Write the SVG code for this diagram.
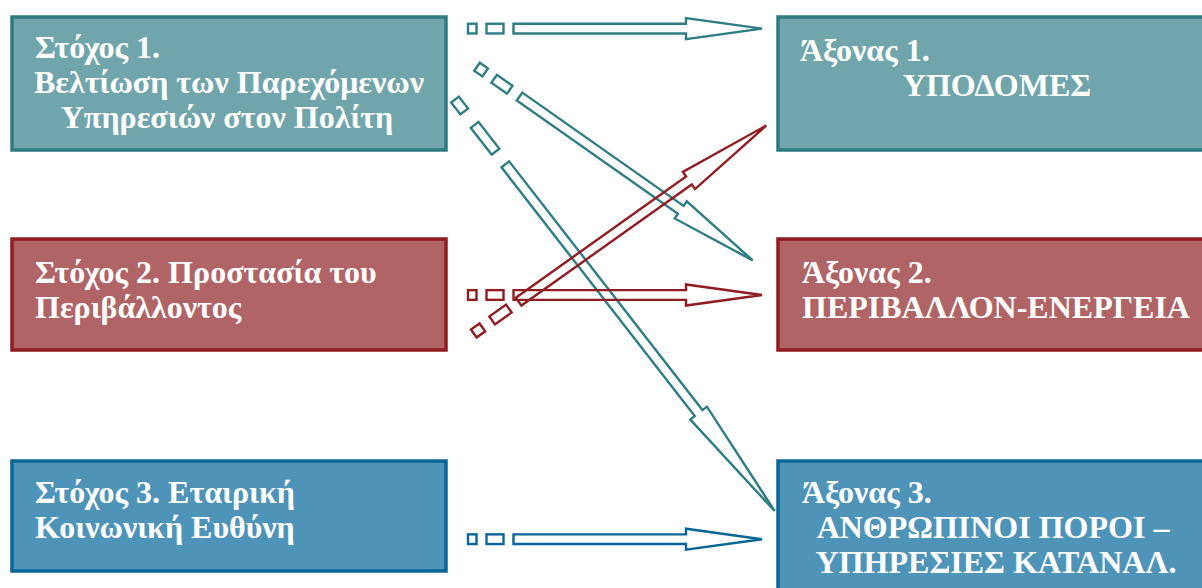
<svg xmlns="http://www.w3.org/2000/svg" width="1202" height="588" viewBox="0 0 1202 588">
  <style>
    .t { font-family: "Liberation Serif", "Times New Roman", serif; font-weight: bold; font-size: 32px; fill: #ffffff; }
    .m { text-anchor: middle; }
    .teal { fill: #70a6ab; stroke: #2f7b80; stroke-width: 3.5; }
    .red { fill: #b06466; stroke: #8f1d22; stroke-width: 3.5; }
    .blue { fill: #4e94b8; stroke: #0a6598; stroke-width: 3.5; }
    .ac { fill: none; stroke-width: 2.4; stroke-linejoin: miter; }
    .at { stroke: #2e7d83; }
    .ar { stroke: #8f1d22; }
    .ab { stroke: #0a6598; }
  </style>
  <rect width="1202" height="588" fill="#ffffff"/>

  <g id="goal1">
    <rect class="teal" x="12" y="17" width="434" height="133"/>
    <text class="t" x="35" y="58">Στόχος 1.</text>
    <text class="t m" x="229" y="93">Βελτίωση των Παρεχόμενων</text>
    <text class="t m" x="227" y="128">Υπηρεσιών στον Πολίτη</text>
  </g>
  <g id="goal2">
    <rect class="red" x="12" y="239" width="434" height="111"/>
    <text class="t" x="35" y="283">Στόχος 2. Προστασία του</text>
    <text class="t" x="35" y="318">Περιβάλλοντος</text>
  </g>
  <g id="goal3">
    <rect class="blue" x="12" y="461" width="434" height="110"/>
    <text class="t" x="35" y="503">Στόχος 3. Εταιρική</text>
    <text class="t" x="35" y="538">Κοινωνική Ευθύνη</text>
  </g>
  <g id="axis1">
    <rect class="teal" x="778" y="17" width="434" height="133"/>
    <text class="t" x="800" y="61">Άξονας 1.</text>
    <text class="t m" x="997" y="96">ΥΠΟΔΟΜΕΣ</text>
  </g>
  <g id="axis2">
    <rect class="red" x="778" y="239" width="434" height="111"/>
    <text class="t" x="802" y="283">Άξονας 2.</text>
    <text class="t" x="802" y="318">ΠΕΡΙΒΑΛΛΟΝ-ΕΝΕΡΓΕΙΑ</text>
  </g>
  <g id="axis3">
    <rect class="blue" x="778" y="461" width="434" height="140"/>
    <text class="t" x="802" y="503">Άξονας 3.</text>
    <text class="t m" x="993" y="538">ΑΝΘΡΩΠΙΝΟΙ ΠΟΡΟΙ –</text>
    <text class="t m" x="996" y="573">ΥΠΗΡΕΣΙΕΣ ΚΑΤΑΝΑΛ.</text>
  </g>

  <g id="connectors">
    <!-- goal1 -> axis1 -->
    <g class="ac at" transform="translate(468,28.6)">
      <rect x="0" y="-4.85" width="8.5" height="9.7"/>
      <rect x="18.5" y="-4.85" width="17" height="9.7"/>
      <polygon points="45.5,-4.85 218,-4.85 218,-10.5 294,0 218,10.5 218,4.85 45.5,4.85"/>
    </g>
    <!-- goal1 -> axis2 -->
    <g class="ac at" transform="translate(477,66.7) rotate(35.09)">
      <rect x="0" y="-4.85" width="10" height="9.7"/>
      <rect x="21" y="-4.85" width="19" height="9.7"/>
      <polygon points="52,-4.85 249,-4.85 249,-10.5 337,0 249,10.5 249,4.85 52,4.85"/>
    </g>
    <!-- goal1 -> axis3 -->
    <g class="ac at" transform="translate(455,99.6) rotate(52.15)">
      <rect x="0" y="-4.85" width="15" height="9.7"/>
      <rect x="32" y="-4.85" width="34" height="9.7"/>
      <polygon points="82,-4.85 397,-4.85 397,-10.5 521,0 397,10.5 397,4.85 82,4.85"/>
    </g>
    <!-- goal2 -> axis2 -->
    <g class="ac ar" transform="translate(468,295)">
      <rect x="0" y="-4.85" width="8.5" height="9.7"/>
      <rect x="18.5" y="-4.85" width="17" height="9.7"/>
      <polygon points="45.5,-4.85 218,-4.85 218,-10.5 294,0 218,10.5 218,4.85 45.5,4.85"/>
    </g>
    <!-- goal2 -> axis1 -->
    <g class="ac ar" transform="translate(473.8,333.5) rotate(-35.42)">
      <rect x="0" y="-4.85" width="10.5" height="9.7"/>
      <rect x="22.5" y="-4.85" width="20.5" height="9.7"/>
      <polygon points="55,-4.85 264,-4.85 264,-10.5 359,0 264,10.5 264,4.85 55,4.85"/>
    </g>
    <!-- goal3 -> axis3 -->
    <g class="ac ab" transform="translate(468,539.2)">
      <rect x="0" y="-4.85" width="8.5" height="9.7"/>
      <rect x="18.5" y="-4.85" width="17" height="9.7"/>
      <polygon points="45.5,-4.85 218,-4.85 218,-10.5 294,0 218,10.5 218,4.85 45.5,4.85"/>
    </g>
  </g>
</svg>
